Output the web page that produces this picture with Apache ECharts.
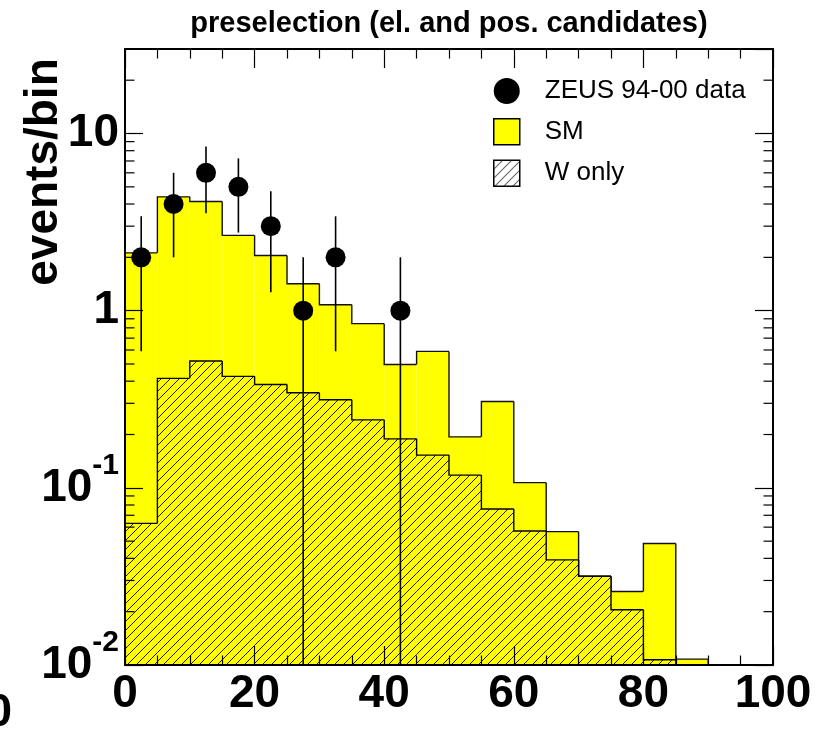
<!DOCTYPE html>
<html>
<head>
<meta charset="utf-8">
<script src="https://cdn.jsdelivr.net/npm/echarts@6/dist/echarts.min.js"></script>
<style>
  html, body { margin: 0; padding: 0; background: #fff; }
  #chart { width: 820px; height: 734px; }
</style>
</head>
<body>
<div id="chart"></div>
<script>
// ---------------- data ----------------
const binEdges = [0, 5, 10, 15, 20, 25, 30, 35, 40, 45, 50, 55, 60, 65, 70, 75, 80, 85, 90, 95, 100];
const smValues = [2.12, 4.39, 4.13, 2.66, 2.05, 1.42, 1.08, 0.845, 0.497, 0.589,
                  0.194, 0.307, 0.107, 0.0566, 0.0317, 0.026, 0.0485, 0.0108, 0, 0];
const wValues  = [0.063, 0.415, 0.52, 0.426, 0.383, 0.344, 0.314, 0.242, 0.189, 0.153,
                  0.118, 0.076, 0.0571, 0.0392, 0.0317, 0.0205, 0.0107, 0, 0, 0];
const dataX       = [2.5, 7.5, 12.5, 17.5, 22.5, 27.5, 32.5, 42.5];
const dataY       = [2, 4, 6, 5, 3, 1, 2, 1];
const dataErrUp   = [1.41, 2, 2.45, 2.24, 1.73, 1, 1.41, 1];
const dataErrDown = [1.41, 2, 2.45, 2.24, 1.73, 1, 1.41, 1];
const Y_MIN = 0.01, Y_MAX = 30, X_MIN = 0, X_MAX = 100;

const FONT = '"Liberation Sans", Arial, Helvetica, sans-serif';

// ---------------- hatch patterns ----------------
function makeHatch(bg) {
  const s = 9;
  const c = document.createElement('canvas');
  c.width = s; c.height = s;
  const ctx = c.getContext('2d');
  ctx.fillStyle = bg; ctx.fillRect(0, 0, s, s);
  ctx.strokeStyle = '#000'; ctx.lineWidth = 0.9;
  for (let k = -1; k <= 1; k++) {
    ctx.beginPath();
    ctx.moveTo(k * s, s);
    ctx.lineTo(k * s + s, 0);
    ctx.stroke();
  }
  return { image: c, repeat: 'repeat' };
}
const hatchYellow = makeHatch('#ffff00');
const hatchWhite = makeHatch('#ffffff');

// ---------------- builders ----------------
function histData(values) {
  const out = [];
  for (let i = 0; i < values.length; i++) {
    if (!(values[i] > 0)) continue;
    const prev = (i > 0 && values[i - 1] > 0) ? values[i - 1] : Y_MIN;
    const next = (i < values.length - 1 && values[i + 1] > 0) ? values[i + 1] : 0;
    out.push([binEdges[i], binEdges[i + 1], values[i], prev, next]);
  }
  return out;
}
function histRender(fill, stroke) {
  return function (params, api) {
    const x0 = api.value(0), x1 = api.value(1), v = api.value(2);
    const prev = api.value(3), next = api.value(4);
    const tl = api.coord([x0, v]);
    const br = api.coord([x1, Y_MIN]);
    const pPrev = api.coord([x0, prev]);
    const pts = [[tl[0], pPrev[1]], [tl[0], tl[1]], [br[0], tl[1]]];
    if (!(next > 0)) pts.push([br[0], br[1]]);
    return {
      type: 'group',
      children: [
        { type: 'rect', shape: { x: tl[0], y: tl[1], width: br[0] - tl[0], height: br[1] - tl[1] },
          style: { fill: fill } },
        { type: 'polyline', shape: { points: pts }, style: { stroke: stroke, lineWidth: 1.4, fill: null } }
      ]
    };
  };
}
const errData = dataX.map((x, i) => [x, Math.max(dataY[i] - dataErrDown[i], Y_MIN), dataY[i] + dataErrUp[i]]);
const pointData = dataX.map((x, i) => [x, dataY[i]]);

// minor log ticks (2..9 x 10^k) inside the frame
const yMinorTicks = [];
for (let e = -2; e <= 1; e++) {
  for (let m = 2; m <= 9; m++) {
    const v = m * Math.pow(10, e);
    if (v < Y_MAX) yMinorTicks.push([X_MIN, v]);
  }
}

const chart = echarts.init(document.getElementById('chart'), null, { renderer: 'canvas' });

const axisLineStyle = { color: '#000', width: 2 };
const tickStyle = { color: '#000', width: 1.2 };

const yLabelFormatter = function (v) {
  const e = Math.round(Math.log10(v));
  if (e === 0) return '1';
  if (e === 1) return '10';
  return '10{sup|' + e + '}';
};

const option = {
  backgroundColor: '#fff',
  animation: false,
  grid: { left: 125, top: 49, width: 648, height: 616, containLabel: false },
  xAxis: [
    {
      type: 'value', min: X_MIN, max: X_MAX, interval: 20, position: 'bottom', z: 10,
      axisLine: { show: true, onZero: false, lineStyle: axisLineStyle },
      axisTick: { show: true, inside: true, length: 19, lineStyle: tickStyle },
      minorTick: { show: true, splitNumber: 4, length: 9.5, lineStyle: tickStyle },
      splitLine: { show: false },
      axisLabel: { show: true, margin: 6, color: '#000', fontSize: 46, fontWeight: 'bold', fontFamily: FONT }
    },
    {
      type: 'value', min: X_MIN, max: X_MAX, interval: 20, position: 'top', z: 10,
      axisLine: { show: true, onZero: false, lineStyle: axisLineStyle },
      axisTick: { show: true, inside: true, length: 19, lineStyle: tickStyle },
      minorTick: { show: true, splitNumber: 4, length: 9.5, lineStyle: tickStyle },
      splitLine: { show: false },
      axisLabel: { show: false }
    }
  ],
  yAxis: [
    {
      type: 'log', logBase: 10, min: Y_MIN, max: Y_MAX, position: 'left', z: 10,
      axisLine: { show: true, onZero: false, lineStyle: axisLineStyle },
      axisTick: { show: true, inside: true, length: 18, lineStyle: tickStyle },
      splitLine: { show: false },
      axisLabel: {
        show: true, margin: 6, showMaxLabel: false, color: '#000',
        fontSize: 46, fontWeight: 'bold', fontFamily: FONT,
        formatter: yLabelFormatter,
        rich: { sup: { fontSize: 30, fontWeight: 'bold', fontFamily: FONT, color: '#000', padding: [0, 0, 44, 0] } }
      }
    },
    {
      type: 'log', logBase: 10, min: Y_MIN, max: Y_MAX, position: 'right', z: 10,
      axisLine: { show: true, onZero: false, lineStyle: axisLineStyle },
      axisTick: { show: true, inside: true, length: 18, lineStyle: tickStyle },
      splitLine: { show: false },
      axisLabel: { show: false }
    }
  ],
  legend: {
    orient: 'vertical', left: 488, top: 73, itemWidth: 26, itemHeight: 26, itemGap: 14,
    selectedMode: false,
    textStyle: { fontSize: 26, fontFamily: FONT, color: '#000', padding: [0, 0, 0, 20] },
    data: [
      { name: 'ZEUS 94-00 data', icon: 'circle', itemStyle: { color: '#000', opacity: 1 } },
      { name: 'SM', icon: 'rect', itemStyle: { color: '#ffff00', borderColor: '#000', borderWidth: 1.5 } },
      { name: 'W only', icon: 'rect', itemStyle: { color: hatchWhite, borderColor: '#000', borderWidth: 1.5 } }
    ]
  },
  graphic: [
    { type: 'text', x: 449, y: 24, z: 100,
      style: { text: 'preselection (el. and pos. candidates)', fill: '#000',
               font: 'bold 29px ' + FONT, textAlign: 'center', textVerticalAlign: 'middle' } },
    { type: 'text', x: 44, y: 172, rotation: Math.PI / 2, z: 100,
      style: { text: 'events/bin', fill: '#000', font: 'bold 46px ' + FONT,
               textAlign: 'center', textVerticalAlign: 'middle' } },
    { type: 'text', x: 12, y: 713, z: 100,
      style: { text: '0', fill: '#000', font: 'bold 46px ' + FONT,
               textAlign: 'right', textVerticalAlign: 'middle' } }
  ],
  series: [
    {
      name: 'SM', type: 'custom', xAxisIndex: 0, yAxisIndex: 0, z: 2,
      itemStyle: { color: '#ffff00' },
      encode: { x: [0, 1], y: [2] },
      renderItem: histRender('#ffff00', '#111'),
      data: histData(smValues)
    },
    {
      name: 'W only', type: 'custom', xAxisIndex: 0, yAxisIndex: 0, z: 3,
      itemStyle: { color: '#ffff00' },
      encode: { x: [0, 1], y: [2] },
      renderItem: histRender(hatchYellow, '#000'),
      data: histData(wValues)
    },
    {
      name: 'minorTicks', type: 'custom', xAxisIndex: 0, yAxisIndex: 0, z: 11, silent: true,
      encode: { x: 0, y: 1 },
      renderItem: function (params, api) {
        const v = api.value(1);
        const pl = api.coord([X_MIN, v]);
        const pr = api.coord([X_MAX, v]);
        return {
          type: 'group',
          children: [
            { type: 'line', shape: { x1: pl[0], y1: pl[1], x2: pl[0] + 9.5, y2: pl[1] }, style: { stroke: '#000', lineWidth: 1.2 } },
            { type: 'line', shape: { x1: pr[0] - 9.5, y1: pr[1], x2: pr[0], y2: pr[1] }, style: { stroke: '#000', lineWidth: 1.2 } }
          ]
        };
      },
      data: yMinorTicks
    },
    {
      name: 'errors', type: 'custom', xAxisIndex: 0, yAxisIndex: 0, z: 12, silent: true,
      encode: { x: 0, y: [1, 2] },
      renderItem: function (params, api) {
        const p1 = api.coord([api.value(0), api.value(1)]);
        const p2 = api.coord([api.value(0), api.value(2)]);
        return { type: 'line', shape: { x1: p1[0], y1: p1[1], x2: p2[0], y2: p2[1] },
                 style: { stroke: '#000', lineWidth: 1.6 } };
      },
      data: errData
    },
    {
      name: 'ZEUS 94-00 data', type: 'scatter', xAxisIndex: 0, yAxisIndex: 0, z: 13,
      symbol: 'circle', symbolSize: 20,
      itemStyle: { color: '#000', opacity: 1 },
      data: pointData
    }
  ]
};
chart.setOption(option);
</script>
</body>
</html>
